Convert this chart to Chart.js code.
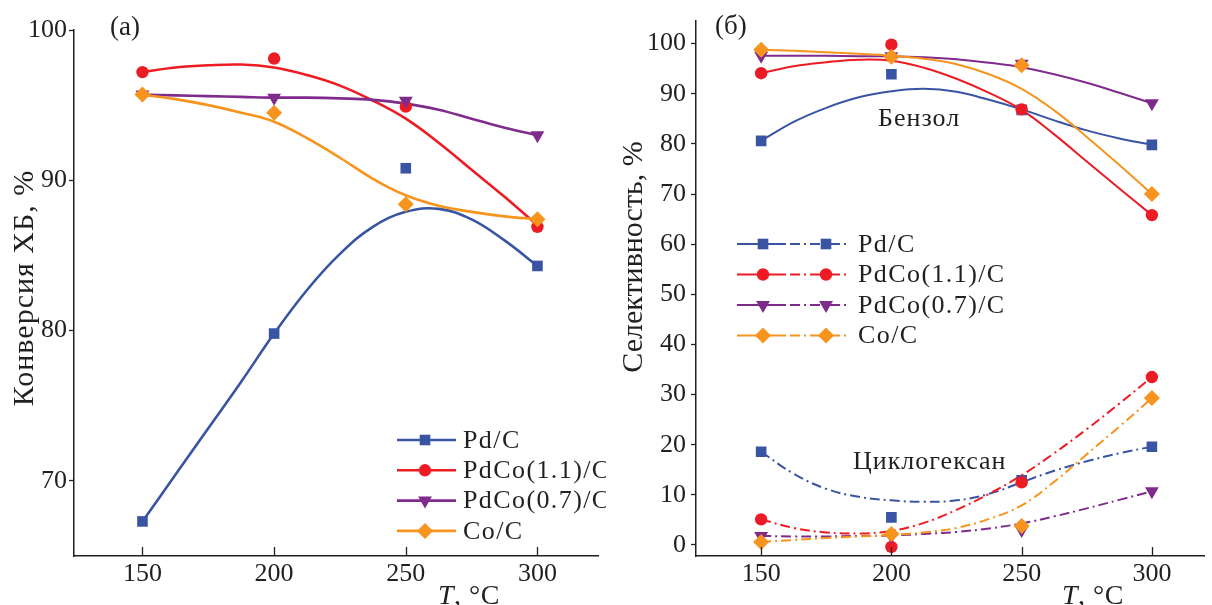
<!DOCTYPE html>
<html><head><meta charset="utf-8">
<script src="https://cdn.jsdelivr.net/npm/chart.js@4.4.1/dist/chart.umd.min.js"></script>
<style>
html,body{margin:0;padding:0;background:#fff;}
#wrap{position:relative;width:1212px;height:605px;overflow:hidden;background:#fff;}
#c1{position:absolute;left:0;top:0;width:606px;height:605px;}
#c2{position:absolute;left:606px;top:0;width:606px;height:605px;}
</style></head><body>
<div id="wrap"><canvas id="c1" width="606" height="605"></canvas><canvas id="c2" width="606" height="605"></canvas></div>
<script>
// ---------------- DATA ----------------
const temps = [150, 200, 250, 300];
const fitT = [150, 162.5, 175, 187.5, 200, 212.5, 225, 237.5, 250, 262.5, 275, 287.5, 300];
const seriesNames = ['Pd/C', 'PdCo(1.1)/C', 'PdCo(0.7)/C', 'Co/C'];
const xTickValues = [150, 200, 250, 300];
const convTickValues = [70, 80, 90, 100];
const selTickValues = [0, 10, 20, 30, 40, 50, 60, 70, 80, 90, 100];

// (a) conversion of chlorobenzene, % — measured points
const convPd     = [67.3, 79.8, 90.8, 84.3];
const convPdCo11 = [97.2, 98.1, 94.9, 86.9];
const convPdCo07 = [95.7, 95.5, 95.3, 93.0];
const convCo     = [95.7, 94.5, 88.4, 87.4];
// (a) fitted curves, read at fitT
const convPdFit     = [67.3, 70.4, 73.5, 76.6, 79.8, 82.7, 85.1, 86.9, 87.9, 88.1, 87.4, 86.0, 84.3];
const convPdCo11Fit = [97.2, 97.5, 97.65, 97.7, 97.5, 97.0, 96.3, 95.3, 94.1, 92.5, 90.7, 88.9, 87.0];
const convPdCo07Fit = [95.7, 95.65, 95.6, 95.55, 95.5, 95.5, 95.45, 95.35, 95.1, 94.7, 94.1, 93.5, 93.0];
const convCoFit     = [95.7, 95.4, 95.0, 94.5, 93.9, 92.8, 91.5, 90.1, 89.0, 88.3, 87.9, 87.6, 87.4];

// (б) selectivity to benzene, % — measured points
const benzPd     = [80.6, 93.9, 86.8, 79.8];
const benzPdCo11 = [94.1, 99.8, 86.9, 65.8];
const benzPdCo07 = [97.6, 97.5, 96.0, 88.1];
const benzCo     = [98.8, 97.4, 95.7, 70.0];
// (б) benzene fitted curves
const benzPdFit     = [80.6, 84.4, 87.2, 89.3, 90.5, 91.0, 90.4, 88.8, 86.9, 84.7, 82.7, 81.1, 79.8];
const benzPdCo11Fit = [94.1, 95.5, 96.3, 96.8, 96.6, 95.2, 93.0, 90.2, 86.8, 81.9, 76.5, 71.1, 65.8];
const benzPdCo07Fit = [97.6, 97.6, 97.6, 97.5, 97.5, 97.3, 96.9, 96.2, 95.3, 93.9, 92.2, 90.2, 88.1];
const benzCoFit     = [98.8, 98.6, 98.3, 98.0, 97.6, 97.0, 95.9, 93.9, 91.0, 86.7, 81.4, 75.8, 70.0];

// (б) selectivity to cyclohexane, % — measured points
const cyclPd     = [18.6, 5.5, 12.9, 19.6];
const cyclPdCo11 = [5.1, -0.4, 12.5, 33.5];
const cyclPdCo07 = [1.8, 1.8, 3.0, 10.7];
const cyclCo     = [0.6, 2.2, 3.8, 29.3];
// (б) cyclohexane fitted curves
const cyclPdFit     = [18.6, 14.2, 11.2, 9.6, 8.9, 8.6, 8.9, 10.2, 12.5, 14.8, 16.7, 18.3, 19.6];
const cyclPdCo11Fit = [5.1, 3.4, 2.5, 2.3, 2.8, 4.4, 7.0, 10.2, 13.9, 18.3, 23.1, 28.2, 33.5];
const cyclPdCo07Fit = [1.8, 1.7, 1.7, 1.8, 1.9, 2.2, 2.6, 3.3, 4.3, 5.7, 7.3, 9.0, 10.7];
const cyclCoFit     = [0.6, 1.0, 1.4, 1.7, 2.0, 2.5, 3.4, 5.2, 7.9, 12.6, 18.1, 23.6, 29.3];

// ---------------- STYLE ----------------
const colors = ['#3a54a4', '#ed1c24', '#7f2b8c', '#f7941d'];
const pStyles = ['rect', 'circle', 'triangle', 'rectRot'];
const pRadius = [7.5, 6.2, 8, 8];
const pRot = [0, 0, 180, 0];
const drawOrder = [3, 2, 1, 0];
const AXIS = '#231f20';
const FONT = '"Liberation Serif", "Times New Roman", serif';
const DASHDOT = [10, 4, 2, 4];

function pts(xs, ys) { return xs.map((x, i) => ({x: x, y: ys[i]})); }

function markerSet(i, vals) {
  return {
    label: seriesNames[i], data: pts(temps, vals), showLine: false,
    pointStyle: pStyles[i], pointRadius: pRadius[i], pointRotation: pRot[i],
    pointBackgroundColor: colors[i], pointBorderColor: colors[i], pointBorderWidth: 0,
    backgroundColor: colors[i], borderColor: colors[i]
  };
}
function fitSet(i, vals, width, dash) {
  return {
    label: seriesNames[i] + ' fit', data: pts(fitT, vals), showLine: true,
    borderColor: colors[i], borderWidth: width, borderDash: dash || [],
    pointRadius: 0, tension: 0.4, fill: false
  };
}

function drawMarker(ctx, i, x, y) {
  const r = pRadius[i];
  ctx.save();
  ctx.fillStyle = colors[i];
  ctx.beginPath();
  if (pStyles[i] === 'rect') { const s = r * Math.SQRT1_2; ctx.rect(x - s, y - s, 2 * s, 2 * s); }
  else if (pStyles[i] === 'circle') { ctx.arc(x, y, r, 0, Math.PI * 2); }
  else if (pStyles[i] === 'rectRot') { ctx.moveTo(x - r, y); ctx.lineTo(x, y - r); ctx.lineTo(x + r, y); ctx.lineTo(x, y + r); ctx.closePath(); }
  else if (pStyles[i] === 'triangle') {
    let rad = pRot[i] * Math.PI / 180;
    ctx.moveTo(x + Math.sin(rad) * r, y - Math.cos(rad) * r);
    rad += 2 * Math.PI / 3; ctx.lineTo(x + Math.sin(rad) * r, y - Math.cos(rad) * r);
    rad += 2 * Math.PI / 3; ctx.lineTo(x + Math.sin(rad) * r, y - Math.cos(rad) * r);
    ctx.closePath();
  }
  ctx.fill();
  ctx.restore();
}

function insideXTicks(len) {
  return {
    id: 'insideXTicks',
    afterDraw(chart) {
      const ctx = chart.ctx, xs = chart.scales.x, b = chart.chartArea.bottom;
      ctx.save(); ctx.strokeStyle = AXIS; ctx.lineWidth = 1.3;
      xTickValues.forEach(v => {
        const px = Math.round(xs.getPixelForValue(v)) + 0.5;
        ctx.beginPath(); ctx.moveTo(px, b); ctx.lineTo(px, b - len); ctx.stroke();
      });
      ctx.restore();
    }
  };
}

function textPlugin(items) {
  return {
    id: 'texts',
    afterDraw(chart) {
      const ctx = chart.ctx;
      items.forEach(t => {
        ctx.save();
        ctx.fillStyle = AXIS;
        ctx.translate(t.x, t.y);
        if (t.rot) ctx.rotate(t.rot);
        ctx.textAlign = t.align || 'left';
        ctx.textBaseline = t.base || 'middle';
        if ('letterSpacing' in ctx) ctx.letterSpacing = (t.ls || 0) + 'px';
        if (t.parts) {
          let off = 0;
          t.parts.forEach(p => {
            ctx.font = p.f;
            ctx.fillText(p.s, off, 0);
            off += ctx.measureText(p.s).width;
          });
        } else {
          ctx.font = t.f || ('26px ' + FONT);
          ctx.fillText(t.s, 0, 0);
        }
        ctx.restore();
      });
    }
  };
}

function commonOptions(xMin, xMax, yMin, yMax, yTicks, yWidth, pad, yTickPad) {
  return {
    responsive: false, animation: false, events: [],
    layout: {padding: {left: 0, right: pad.right, top: pad.top, bottom: 0}},
    plugins: {legend: {display: false}, tooltip: {enabled: false}},
    scales: {
      x: {
        type: 'linear', min: xMin, max: xMax,
        afterBuildTicks: a => { a.ticks = xTickValues.map(v => ({value: v})); },
        afterFit: s => { s.height = 49; },
        grid: {display: true, drawOnChartArea: false, drawTicks: false},
        border: {display: true, color: AXIS, width: 1.5},
        ticks: {color: AXIS, font: {family: FONT, size: 26}, padding: 3, maxRotation: 0}
      },
      y: {
        type: 'linear', min: yMin, max: yMax,
        afterBuildTicks: a => { a.ticks = yTicks.map(v => ({value: v})); },
        afterFit: s => { s.width = yWidth; },
        grid: {display: true, drawOnChartArea: false, drawTicks: true, tickLength: 5, tickColor: AXIS, tickWidth: 1.3},
        border: {display: true, color: AXIS, width: 1.5},
        ticks: {color: AXIS, font: {family: FONT, size: 26}, padding: yTickPad}
      }
    }
  };
}

function legendPlugin(id, y0, dy, draw) {
  return {
    id: id,
    afterDraw(chart) {
      const ctx = chart.ctx;
      seriesNames.forEach((name, i) => draw(ctx, i, name, y0 + i * dy));
    }
  };
}
function legendText(ctx, name, x, y) {
  ctx.save();
  ctx.fillStyle = AXIS; ctx.font = '26px ' + FONT; ctx.textBaseline = 'middle';
  if ('letterSpacing' in ctx) ctx.letterSpacing = '1.4px';
  ctx.fillText(name, x, y + 1);
  ctx.restore();
}

// ---------------- CHART (a) ----------------
const convMarkers = [convPd, convPdCo11, convPdCo07, convCo];
const convFits = [convPdFit, convPdCo11Fit, convPdCo07Fit, convCoFit];
const setsA = [];
drawOrder.forEach(i => setsA.push(markerSet(i, convMarkers[i])));
drawOrder.forEach(i => setsA.push(fitSet(i, convFits[i], 2.6)));

const legendA = legendPlugin('legendA', 440, 30.3, (ctx, i, name, y) => {
  ctx.save();
  ctx.strokeStyle = colors[i]; ctx.lineWidth = 2.6;
  ctx.beginPath(); ctx.moveTo(397, y); ctx.lineTo(456, y); ctx.stroke();
  ctx.restore();
  drawMarker(ctx, i, 425, y);
  legendText(ctx, name, 463, y);
});

new Chart(document.getElementById('c1'), {
  type: 'scatter',
  data: {datasets: setsA},
  options: commonOptions(124, 323, 65, 100, convTickValues, 74, {top: 30, right: 6}, 2),
  plugins: [insideXTicks(9), legendA, textPlugin([
    {s: '(a)', x: 110, y: 28, f: '27px ' + FONT},
    {s: 'Конверсия ХБ, %', x: 25, y: 288, rot: -Math.PI / 2, align: 'center', f: '30px ' + FONT, ls: 1},
    {x: 438, y: 604, base: 'alphabetic', ls: 0.5, parts: [{s: 'T', f: 'italic 28px ' + FONT}, {s: ', °C', f: '28px ' + FONT}]}
  ])]
});

// ---------------- CHART (б) ----------------
const benzMarkers = [benzPd, benzPdCo11, benzPdCo07, benzCo];
const benzFits = [benzPdFit, benzPdCo11Fit, benzPdCo07Fit, benzCoFit];
const cyclMarkers = [cyclPd, cyclPdCo11, cyclPdCo07, cyclCo];
const cyclFits = [cyclPdFit, cyclPdCo11Fit, cyclPdCo07Fit, cyclCoFit];
const setsB = [];
drawOrder.forEach(i => setsB.push(markerSet(i, benzMarkers[i])));
drawOrder.forEach(i => setsB.push(markerSet(i, cyclMarkers[i])));
drawOrder.forEach(i => setsB.push(fitSet(i, benzFits[i], 2.0)));
drawOrder.forEach(i => setsB.push(fitSet(i, cyclFits[i], 2.0, DASHDOT)));

const legendB = legendPlugin('legendB', 244, 30.5, (ctx, i, name, y) => {
  ctx.save();
  ctx.strokeStyle = colors[i]; ctx.lineWidth = 2.0;
  ctx.beginPath(); ctx.moveTo(131, y); ctx.lineTo(180, y); ctx.stroke();
  ctx.setLineDash(DASHDOT);
  ctx.beginPath(); ctx.moveTo(184, y); ctx.lineTo(242, y); ctx.stroke();
  ctx.restore();
  drawMarker(ctx, i, 157, y);
  drawMarker(ctx, i, 220, y);
  legendText(ctx, name, 252, y);
});

new Chart(document.getElementById('c2'), {
  type: 'scatter',
  data: {datasets: setsB},
  options: commonOptions(125, 320, -2.2, 104.6, selTickValues, 90, {top: 18, right: 0}, 5),
  plugins: [insideXTicks(9), legendB, textPlugin([
    {s: '(б)', x: 109, y: 27, f: '27px ' + FONT},
    {s: 'Бензол', x: 272, y: 119, f: '26px ' + FONT, ls: 1},
    {s: 'Циклогексан', x: 247, y: 462, f: '26px ' + FONT, ls: 1},
    {s: 'Селективность, %', x: 28, y: 257, rot: -Math.PI / 2, align: 'center', f: '30px ' + FONT},
    {x: 456, y: 604, base: 'alphabetic', ls: 0.5, parts: [{s: 'T', f: 'italic 28px ' + FONT}, {s: ', °C', f: '28px ' + FONT}]}
  ])]
});
</script>
</body></html>
